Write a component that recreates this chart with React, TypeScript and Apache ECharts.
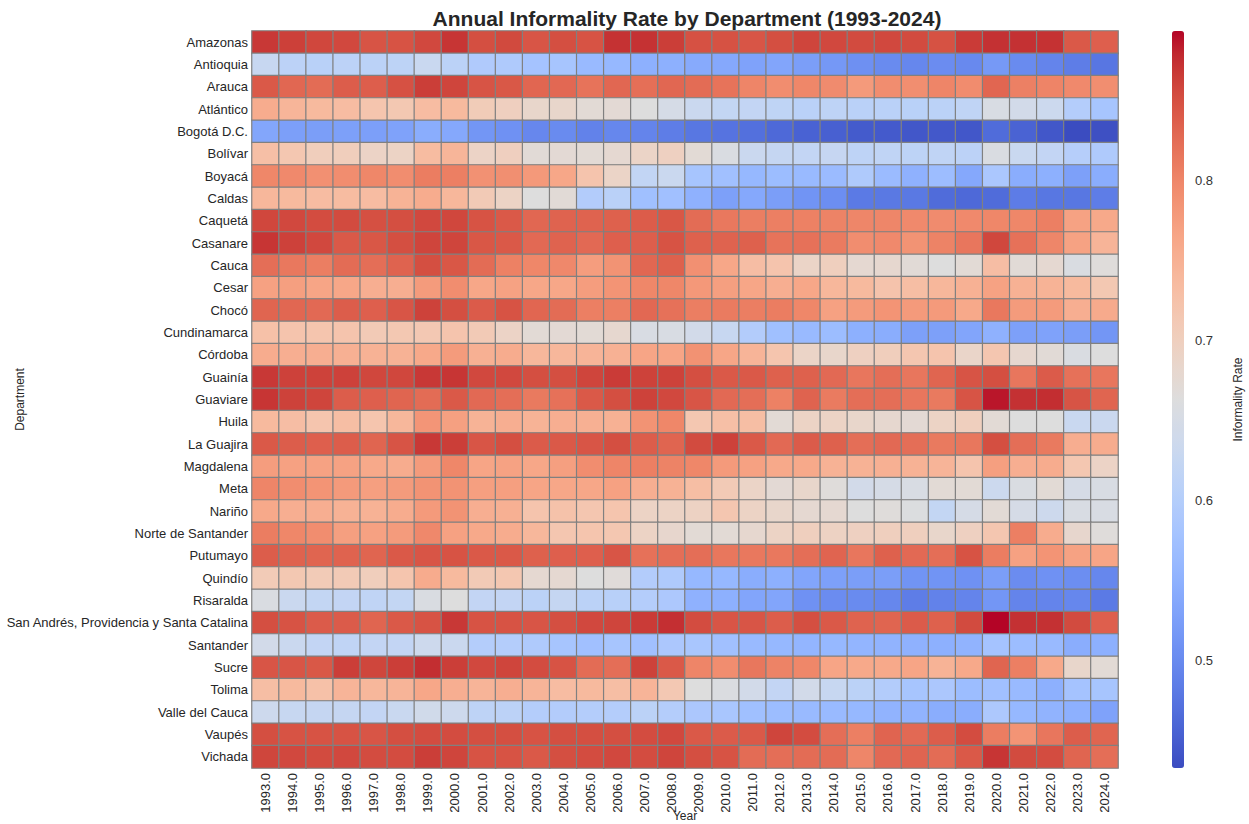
import React, { useEffect, useRef } from "react";
import * as echarts from "echarts";

const yearLabels = [
  "1993.0", "1994.0", "1995.0", "1996.0", "1997.0", "1998.0", "1999.0", "2000.0",
  "2001.0", "2002.0", "2003.0", "2004.0", "2005.0", "2006.0", "2007.0", "2008.0",
  "2009.0", "2010.0", "2011.0", "2012.0", "2013.0", "2014.0", "2015.0", "2016.0",
  "2017.0", "2018.0", "2019.0", "2020.0", "2021.0", "2022.0", "2023.0", "2024.0",
];

const departments = [
  "Amazonas", "Antioquia", "Arauca", "Atlántico", "Bogotá D.C.", "Bolívar", "Boyacá",
  "Caldas", "Caquetá", "Casanare", "Cauca", "Cesar", "Chocó", "Cundinamarca", "Córdoba",
  "Guainía", "Guaviare", "Huila", "La Guajira", "Magdalena", "Meta", "Nariño",
  "Norte de Santander", "Putumayo", "Quindío", "Risaralda",
  "San Andrés, Providencia y Santa Catalina", "Santander", "Sucre", "Tolima",
  "Valle del Cauca", "Vaupés", "Vichada",
];

const amazonas = [0.868, 0.863, 0.857, 0.856, 0.846, 0.847, 0.856, 0.870, 0.851, 0.855, 0.845, 0.851, 0.847, 0.872, 0.872, 0.864, 0.849, 0.848, 0.845, 0.851, 0.859, 0.856, 0.854, 0.856, 0.854, 0.848, 0.866, 0.873, 0.873, 0.872, 0.842, 0.836];
const antioquia = [0.627, 0.611, 0.607, 0.611, 0.610, 0.613, 0.630, 0.610, 0.594, 0.593, 0.579, 0.582, 0.564, 0.560, 0.548, 0.548, 0.540, 0.538, 0.530, 0.533, 0.524, 0.517, 0.507, 0.501, 0.496, 0.503, 0.499, 0.518, 0.501, 0.493, 0.485, 0.477];
const arauca = [0.842, 0.829, 0.825, 0.838, 0.837, 0.849, 0.864, 0.859, 0.846, 0.843, 0.830, 0.828, 0.818, 0.829, 0.822, 0.829, 0.825, 0.818, 0.801, 0.792, 0.799, 0.794, 0.778, 0.792, 0.791, 0.801, 0.793, 0.830, 0.806, 0.802, 0.796, 0.791];
const atlantico = [0.756, 0.743, 0.737, 0.733, 0.719, 0.714, 0.733, 0.737, 0.707, 0.699, 0.684, 0.684, 0.672, 0.674, 0.663, 0.648, 0.632, 0.622, 0.621, 0.616, 0.608, 0.614, 0.608, 0.608, 0.607, 0.610, 0.617, 0.654, 0.644, 0.634, 0.600, 0.582];
const bogota = [0.535, 0.526, 0.524, 0.527, 0.526, 0.530, 0.544, 0.538, 0.514, 0.509, 0.497, 0.501, 0.491, 0.496, 0.493, 0.485, 0.478, 0.474, 0.471, 0.463, 0.456, 0.454, 0.448, 0.447, 0.444, 0.445, 0.444, 0.466, 0.457, 0.444, 0.433, 0.437];
const bolivar = [0.728, 0.716, 0.703, 0.702, 0.691, 0.692, 0.734, 0.743, 0.691, 0.699, 0.671, 0.674, 0.672, 0.677, 0.689, 0.697, 0.672, 0.656, 0.631, 0.624, 0.621, 0.625, 0.614, 0.617, 0.613, 0.617, 0.611, 0.656, 0.630, 0.621, 0.602, 0.593];
const boyaca = [0.799, 0.796, 0.789, 0.792, 0.799, 0.792, 0.809, 0.807, 0.788, 0.790, 0.779, 0.762, 0.720, 0.689, 0.620, 0.632, 0.582, 0.574, 0.560, 0.568, 0.564, 0.566, 0.593, 0.566, 0.550, 0.569, 0.538, 0.587, 0.544, 0.548, 0.527, 0.544];
const caldas = [0.741, 0.737, 0.733, 0.734, 0.733, 0.747, 0.756, 0.741, 0.710, 0.692, 0.663, 0.671, 0.598, 0.608, 0.573, 0.574, 0.550, 0.527, 0.538, 0.524, 0.512, 0.505, 0.482, 0.480, 0.480, 0.466, 0.463, 0.466, 0.484, 0.478, 0.478, 0.485];
const caqueta = [0.857, 0.856, 0.853, 0.854, 0.850, 0.851, 0.856, 0.857, 0.847, 0.842, 0.829, 0.833, 0.833, 0.835, 0.839, 0.844, 0.825, 0.813, 0.808, 0.807, 0.805, 0.803, 0.800, 0.800, 0.796, 0.794, 0.796, 0.799, 0.799, 0.807, 0.768, 0.760];
const casanare = [0.870, 0.862, 0.856, 0.842, 0.844, 0.851, 0.859, 0.859, 0.844, 0.842, 0.827, 0.833, 0.827, 0.836, 0.837, 0.847, 0.835, 0.833, 0.835, 0.818, 0.820, 0.811, 0.792, 0.796, 0.786, 0.803, 0.815, 0.857, 0.820, 0.800, 0.768, 0.745];
const cauca = [0.823, 0.813, 0.808, 0.825, 0.823, 0.833, 0.851, 0.844, 0.825, 0.805, 0.799, 0.797, 0.775, 0.786, 0.829, 0.835, 0.789, 0.762, 0.731, 0.720, 0.689, 0.700, 0.677, 0.680, 0.671, 0.663, 0.672, 0.731, 0.671, 0.677, 0.656, 0.666];
const cesar = [0.770, 0.772, 0.765, 0.762, 0.753, 0.753, 0.777, 0.792, 0.762, 0.768, 0.762, 0.762, 0.775, 0.785, 0.799, 0.799, 0.780, 0.772, 0.764, 0.753, 0.762, 0.741, 0.737, 0.722, 0.730, 0.741, 0.749, 0.768, 0.749, 0.747, 0.737, 0.714];
const choco = [0.831, 0.829, 0.827, 0.838, 0.836, 0.845, 0.861, 0.851, 0.840, 0.847, 0.830, 0.825, 0.807, 0.807, 0.828, 0.820, 0.808, 0.811, 0.808, 0.809, 0.799, 0.770, 0.777, 0.785, 0.778, 0.778, 0.760, 0.813, 0.777, 0.777, 0.753, 0.758];
const cundinamarca = [0.726, 0.720, 0.719, 0.720, 0.710, 0.714, 0.713, 0.720, 0.710, 0.691, 0.672, 0.674, 0.672, 0.680, 0.654, 0.654, 0.644, 0.627, 0.598, 0.573, 0.564, 0.568, 0.548, 0.544, 0.527, 0.527, 0.533, 0.550, 0.527, 0.530, 0.524, 0.514];
const cordoba = [0.756, 0.753, 0.753, 0.750, 0.748, 0.748, 0.760, 0.777, 0.750, 0.756, 0.741, 0.741, 0.745, 0.749, 0.765, 0.765, 0.787, 0.764, 0.745, 0.719, 0.689, 0.684, 0.697, 0.703, 0.717, 0.720, 0.687, 0.717, 0.680, 0.671, 0.656, 0.663];
const guainia = [0.868, 0.862, 0.861, 0.862, 0.857, 0.857, 0.868, 0.870, 0.856, 0.856, 0.851, 0.851, 0.859, 0.866, 0.861, 0.861, 0.851, 0.842, 0.842, 0.835, 0.835, 0.827, 0.815, 0.823, 0.815, 0.831, 0.846, 0.851, 0.815, 0.840, 0.820, 0.815];
const guaviare = [0.870, 0.861, 0.859, 0.838, 0.836, 0.831, 0.825, 0.842, 0.827, 0.823, 0.812, 0.820, 0.842, 0.851, 0.861, 0.856, 0.845, 0.827, 0.823, 0.805, 0.833, 0.811, 0.823, 0.823, 0.815, 0.812, 0.846, 0.886, 0.873, 0.875, 0.846, 0.831];
const huila = [0.737, 0.731, 0.719, 0.730, 0.719, 0.741, 0.783, 0.771, 0.747, 0.753, 0.747, 0.753, 0.750, 0.749, 0.786, 0.799, 0.716, 0.728, 0.730, 0.672, 0.692, 0.692, 0.684, 0.680, 0.674, 0.692, 0.700, 0.672, 0.663, 0.663, 0.630, 0.632];
const laGuajira = [0.842, 0.838, 0.836, 0.838, 0.831, 0.846, 0.868, 0.864, 0.845, 0.851, 0.840, 0.842, 0.845, 0.851, 0.838, 0.831, 0.854, 0.862, 0.842, 0.827, 0.840, 0.835, 0.823, 0.827, 0.823, 0.812, 0.814, 0.851, 0.823, 0.812, 0.754, 0.756];
const magdalena = [0.775, 0.770, 0.768, 0.768, 0.760, 0.756, 0.777, 0.799, 0.765, 0.768, 0.762, 0.772, 0.792, 0.801, 0.807, 0.803, 0.799, 0.778, 0.770, 0.760, 0.760, 0.748, 0.748, 0.750, 0.748, 0.745, 0.720, 0.772, 0.753, 0.756, 0.716, 0.691];
const meta = [0.801, 0.792, 0.785, 0.778, 0.772, 0.777, 0.786, 0.786, 0.772, 0.772, 0.765, 0.762, 0.762, 0.770, 0.753, 0.748, 0.730, 0.710, 0.689, 0.674, 0.684, 0.666, 0.644, 0.648, 0.654, 0.672, 0.672, 0.634, 0.656, 0.672, 0.648, 0.654];
const narino = [0.760, 0.753, 0.753, 0.748, 0.748, 0.756, 0.778, 0.786, 0.753, 0.750, 0.720, 0.724, 0.717, 0.719, 0.692, 0.692, 0.694, 0.717, 0.692, 0.684, 0.677, 0.677, 0.663, 0.666, 0.660, 0.622, 0.648, 0.672, 0.648, 0.636, 0.654, 0.654];
const norteDeSantander = [0.809, 0.799, 0.792, 0.772, 0.770, 0.777, 0.797, 0.770, 0.760, 0.756, 0.741, 0.717, 0.719, 0.716, 0.692, 0.682, 0.672, 0.672, 0.680, 0.692, 0.700, 0.694, 0.697, 0.700, 0.700, 0.684, 0.697, 0.717, 0.807, 0.756, 0.682, 0.666];
const putumayo = [0.838, 0.833, 0.831, 0.833, 0.831, 0.842, 0.845, 0.847, 0.842, 0.842, 0.835, 0.836, 0.836, 0.845, 0.820, 0.823, 0.823, 0.814, 0.813, 0.813, 0.823, 0.832, 0.815, 0.835, 0.827, 0.823, 0.847, 0.809, 0.770, 0.785, 0.768, 0.765];
const quindio = [0.708, 0.714, 0.708, 0.710, 0.703, 0.719, 0.757, 0.737, 0.710, 0.716, 0.677, 0.677, 0.663, 0.668, 0.598, 0.593, 0.560, 0.560, 0.544, 0.548, 0.533, 0.527, 0.524, 0.524, 0.512, 0.512, 0.509, 0.524, 0.503, 0.509, 0.505, 0.496];
const risaralda = [0.656, 0.632, 0.622, 0.621, 0.617, 0.622, 0.656, 0.663, 0.621, 0.621, 0.610, 0.624, 0.610, 0.606, 0.600, 0.590, 0.550, 0.548, 0.533, 0.533, 0.509, 0.503, 0.501, 0.496, 0.485, 0.490, 0.493, 0.514, 0.493, 0.493, 0.496, 0.482];
const sanAndres = [0.851, 0.847, 0.840, 0.840, 0.831, 0.842, 0.847, 0.868, 0.847, 0.847, 0.845, 0.851, 0.856, 0.859, 0.866, 0.874, 0.853, 0.845, 0.845, 0.838, 0.851, 0.842, 0.833, 0.831, 0.840, 0.835, 0.854, 0.893, 0.873, 0.873, 0.854, 0.836];
const santander = [0.644, 0.632, 0.621, 0.617, 0.621, 0.621, 0.636, 0.632, 0.600, 0.600, 0.593, 0.582, 0.574, 0.582, 0.574, 0.588, 0.585, 0.574, 0.564, 0.560, 0.556, 0.560, 0.556, 0.553, 0.550, 0.548, 0.553, 0.579, 0.568, 0.564, 0.544, 0.548];
const sucre = [0.845, 0.845, 0.843, 0.864, 0.858, 0.864, 0.875, 0.864, 0.856, 0.859, 0.853, 0.847, 0.825, 0.823, 0.861, 0.842, 0.801, 0.792, 0.814, 0.803, 0.799, 0.765, 0.760, 0.760, 0.765, 0.747, 0.760, 0.831, 0.807, 0.760, 0.684, 0.672];
const tolima = [0.730, 0.737, 0.726, 0.745, 0.741, 0.745, 0.762, 0.753, 0.745, 0.753, 0.745, 0.733, 0.737, 0.730, 0.745, 0.713, 0.663, 0.658, 0.644, 0.621, 0.644, 0.627, 0.610, 0.598, 0.582, 0.588, 0.568, 0.574, 0.564, 0.548, 0.579, 0.582];
const valleDelCauca = [0.636, 0.627, 0.624, 0.624, 0.621, 0.630, 0.641, 0.636, 0.614, 0.611, 0.600, 0.598, 0.600, 0.600, 0.610, 0.600, 0.588, 0.585, 0.573, 0.568, 0.564, 0.564, 0.560, 0.553, 0.553, 0.544, 0.544, 0.590, 0.560, 0.553, 0.548, 0.530];
const vaupes = [0.851, 0.847, 0.847, 0.847, 0.845, 0.851, 0.853, 0.853, 0.851, 0.851, 0.847, 0.851, 0.851, 0.851, 0.853, 0.856, 0.842, 0.840, 0.842, 0.859, 0.853, 0.823, 0.807, 0.832, 0.827, 0.838, 0.853, 0.809, 0.785, 0.815, 0.838, 0.831];
const vichada = [0.858, 0.856, 0.854, 0.856, 0.853, 0.853, 0.864, 0.859, 0.847, 0.847, 0.842, 0.851, 0.853, 0.856, 0.853, 0.859, 0.851, 0.847, 0.825, 0.823, 0.825, 0.825, 0.800, 0.827, 0.832, 0.825, 0.842, 0.870, 0.854, 0.853, 0.831, 0.823];

const rateRows = [
  amazonas, antioquia, arauca, atlantico, bogota, bolivar, boyaca, caldas, caqueta,
  casanare, cauca, cesar, choco, cundinamarca, cordoba, guainia, guaviare, huila,
  laGuajira, magdalena, meta, narino, norteDeSantander, putumayo, quindio, risaralda,
  sanAndres, santander, sucre, tolima, valleDelCauca, vaupes, vichada,
];

const colorbarTicks = [0.5, 0.6, 0.7, 0.8];
const scaleMin = 0.433;
const scaleMax = 0.893;

const coolwarm = [
  "#3b4cc0", "#445acc", "#4d68d7", "#5775e1", "#6282ea", "#6c8ef1", "#779af7", "#82a5fb",
  "#8db0fe", "#98b9ff", "#a3c2ff", "#aec9fd", "#b8d0f9", "#c2d5f4", "#ccd9ee", "#d5dbe6",
  "#dddddd", "#e5d8d1", "#ecd3c5", "#f1ccb9", "#f5c4ad", "#f7bba0", "#f7b194", "#f7a687",
  "#f49a7b", "#f18d6f", "#ec7f63", "#e57058", "#de604d", "#d55042", "#cb3e38", "#c0282f",
  "#b40426",
];

const FONT = "'Liberation Sans', Arial, 'DejaVu Sans', sans-serif";
const TEXT = "#262626";

export default function App() {
  const ref = useRef<HTMLDivElement>(null);

  useEffect(() => {
    if (!ref.current) return;
    const chart = echarts.init(ref.current, null, { renderer: "svg" });

    const heatData: number[][] = [];
    rateRows.forEach((row, i) => {
      row.forEach((v, j) => heatData.push([j, i, v]));
    });

    chart.setOption({
      animation: false,
      backgroundColor: "#ffffff",
      textStyle: { fontFamily: FONT },
      title: {
        text: "Annual Informality Rate by Department (1993-2024)",
        left: 682,
        top: 3,
        textAlign: "center",
        textStyle: { fontFamily: FONT, fontSize: 21, fontWeight: "bold", color: TEXT },
      },
      grid: [
        { left: 252, top: 31, width: 866, height: 737, containLabel: false, outerBoundsMode: "none" },
        { left: 1172, top: 31, width: 12, height: 737, containLabel: false, outerBoundsMode: "none" },
      ],
      xAxis: [
        {
          type: "category",
          gridIndex: 0,
          data: yearLabels,
          position: "bottom",
          axisLine: { show: false },
          axisTick: { show: false },
          splitLine: { show: false },
          axisLabel: { rotate: 90, margin: 5, fontSize: 13, color: TEXT, fontFamily: FONT },
          name: "Year",
          nameLocation: "middle",
          nameGap: 42,
          nameMoveOverlap: false,
          nameTextStyle: { fontSize: 12, color: TEXT, fontFamily: FONT },
        },
        {
          type: "category",
          gridIndex: 1,
          data: [""],
          show: false,
        },
      ],
      yAxis: [
        {
          type: "category",
          gridIndex: 0,
          data: departments,
          inverse: true,
          axisLine: { show: false },
          axisTick: { show: false },
          splitLine: { show: false },
          axisLabel: { margin: 4, fontSize: 13, color: TEXT, fontFamily: FONT },
          name: "Department",
          nameLocation: "middle",
          nameGap: 226,
          nameRotate: 90,
          nameMoveOverlap: false,
          nameTextStyle: { fontSize: 12, color: TEXT, fontFamily: FONT },
        },
        {
          type: "value",
          gridIndex: 1,
          position: "right",
          min: scaleMin,
          max: scaleMax,
          axisLine: { show: false },
          axisTick: { show: false },
          splitLine: { show: false },
          axisLabel: {
            customValues: colorbarTicks,
            margin: 11,
            fontSize: 13,
            color: "#333333",
            fontFamily: FONT,
            formatter: (v: number) => v.toFixed(1),
          },
          name: "Informality Rate",
          nameLocation: "middle",
          nameGap: 48,
          nameRotate: 90,
          nameMoveOverlap: false,
          nameTextStyle: { fontSize: 12, color: TEXT, fontFamily: FONT },
        },
      ],
      visualMap: {
        type: "continuous",
        seriesIndex: 0,
        min: scaleMin,
        max: scaleMax,
        calculable: false,
        show: true,
        orient: "vertical",
        left: 1172,
        top: 31,
        padding: 0,
        itemWidth: 12,
        itemHeight: 737,
        text: ["", ""],
        formatter: () => "",
        inRange: { color: coolwarm },
      },
      series: [
        {
          type: "heatmap",
          xAxisIndex: 0,
          yAxisIndex: 0,
          data: heatData,
          itemStyle: { borderColor: "#808080", borderWidth: 1.2 },
          emphasis: { disabled: true },
          label: { show: false },
        },
        {
          type: "scatter",
          xAxisIndex: 1,
          yAxisIndex: 1,
          data: [],
          silent: true,
        },
      ],
    });

    return () => chart.dispose();
  }, []);

  return (
    <div
      ref={ref}
      style={{ position: "fixed", left: 0, top: 0, width: 1249, height: 824, background: "#fff" }}
    />
  );
}
